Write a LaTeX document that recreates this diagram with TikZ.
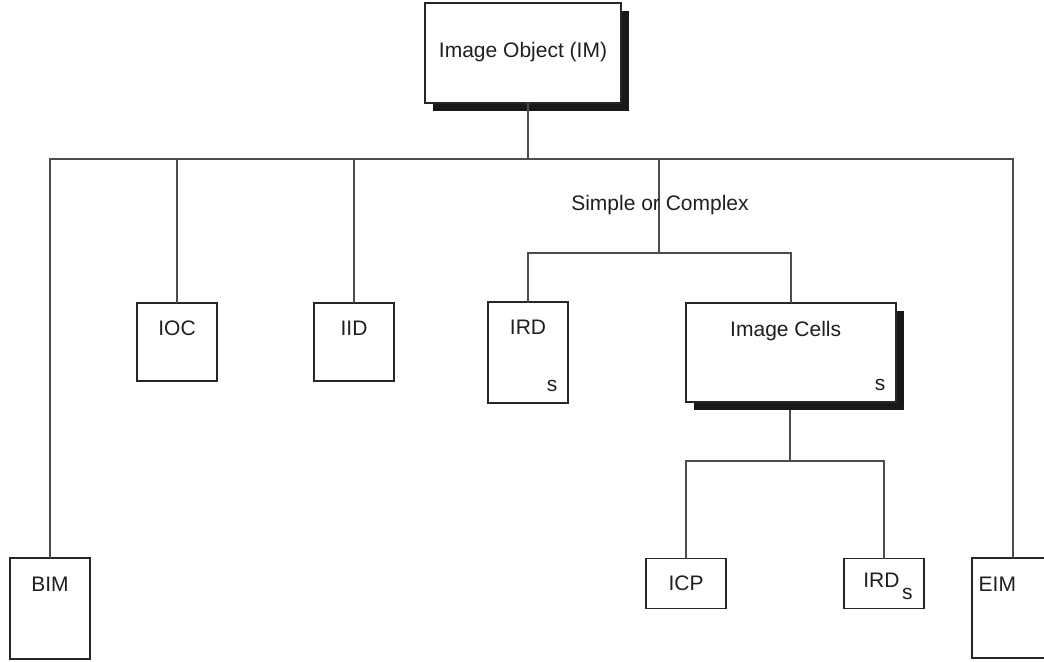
\documentclass[tikz,border=0pt]{standalone}
\usepackage{fontspec}
\setmainfont{Liberation Sans}
\usetikzlibrary{shadows}
\begin{document}
\begin{tikzpicture}[x=0.75pt,y=-0.75pt,
  every node/.style={inner sep=0pt,outer sep=0pt},
  box/.style={draw=black!85,line width=0.8pt,fill=white,minimum width=60pt},
  shbox/.style={box,drop shadow={shadow xshift=6pt,shadow yshift=-6pt,fill=black!90,opacity=1}},
  conn/.style={draw=black!70,line width=0.8pt},
  lbl/.style={font=\fontsize{15.75}{18}\selectfont,text=black!88},
  sub/.style={font=\fontsize{15.75}{18}\selectfont,text=black!88,anchor=base}]
\useasboundingbox (0,0) rectangle (1044,661);
\clip (0,0) rectangle (1044,661);
% coordinates of the bus lines
\coordinate (busL) at (50,159);
\coordinate (busR) at (1013,159);
\coordinate (busT) at (528,159);
\coordinate (scTop) at (659,159);
\coordinate (scBot) at (659,253);
\coordinate (midL) at (528,253);
\coordinate (midR) at (791,253);
\coordinate (lowT) at (790,461);
\coordinate (lowL) at (686,461);
\coordinate (lowR) at (884,461);
% boxes
\node[shbox,minimum width=147pt,minimum height=75pt] (IM) at (523,53) {};
\node[box,minimum height=58.5pt] (IOC) at (177,342) {};
\node[box,minimum height=58.5pt] (IID) at (354,342) {};
\node[box,minimum height=75.75pt] (IRDa) at (528,352.5) {};
\node[shbox,minimum width=157.5pt,minimum height=74.25pt] (Cells) at (791,352.5) {};
\node[box,minimum height=37.5pt] (ICP) at (686,583.5) {};
\node[box,minimum height=37.5pt] (IRDb) at (884,583.5) {};
\node[box,minimum height=75.75pt] (BIM) at (50,608.5) {};
\node[box,minimum height=75pt] (EIM) at (1012,608) {};
% connectors
\draw[conn] (IM.south -| busT) -- (busT);
\draw[conn] (BIM.north) -- (busL) -- (busR) -- (EIM.north -| busR);
\draw[conn] (IOC.north) -- (IOC.north |- busL);
\draw[conn] (IID.north) -- (IID.north |- busL);
\draw[conn] (scTop) -- (scBot);
\draw[conn] (IRDa.north) -- (midL) -- (midR) -- (Cells.north);
\draw[conn] ([yshift=-6pt]Cells.south -| lowT) -- (lowT);
\draw[conn] (ICP.north) -- (lowL) -- (lowR) -- (IRDb.north);
% texts
\node[lbl] (tIM) at (523,52) {Image Object (IM)};
\node[lbl] (tSC) at (660,205) {Simple or Complex};
\node[lbl] (tIOC) at ([yshift=-18.75pt]IOC.north) {IOC};
\node[lbl] (tIID) at ([yshift=-18.75pt]IID.north) {IID};
\node[lbl] (tIRDa) at ([yshift=-19pt]IRDa.north) {IRD};
\node[lbl] (tCells) at ([xshift=-4pt,yshift=-21pt]Cells.north) {Image Cells};
\node[lbl] (tICP) at ([yshift=-18.5pt]ICP.north) {ICP};
\node[lbl] (tIRDb) at ([xshift=-2pt,yshift=-16pt]IRDb.north) {IRD};
\node[lbl] (tBIM) at ([yshift=-19.5pt]BIM.north) {BIM};
\node[lbl] (tEIM) at ([xshift=-11pt,yshift=-19.5pt]EIM.north) {EIM};
\node[sub] (sa) at ([xshift=-12pt,yshift=8.5pt]IRDa.south east) {s};
\node[sub] (sb) at ([xshift=-12pt,yshift=8.5pt]Cells.south east) {s};
\node[sub] (sc) at ([xshift=-12.5pt,yshift=7pt]IRDb.south east) {s};
\end{tikzpicture}
\end{document}
